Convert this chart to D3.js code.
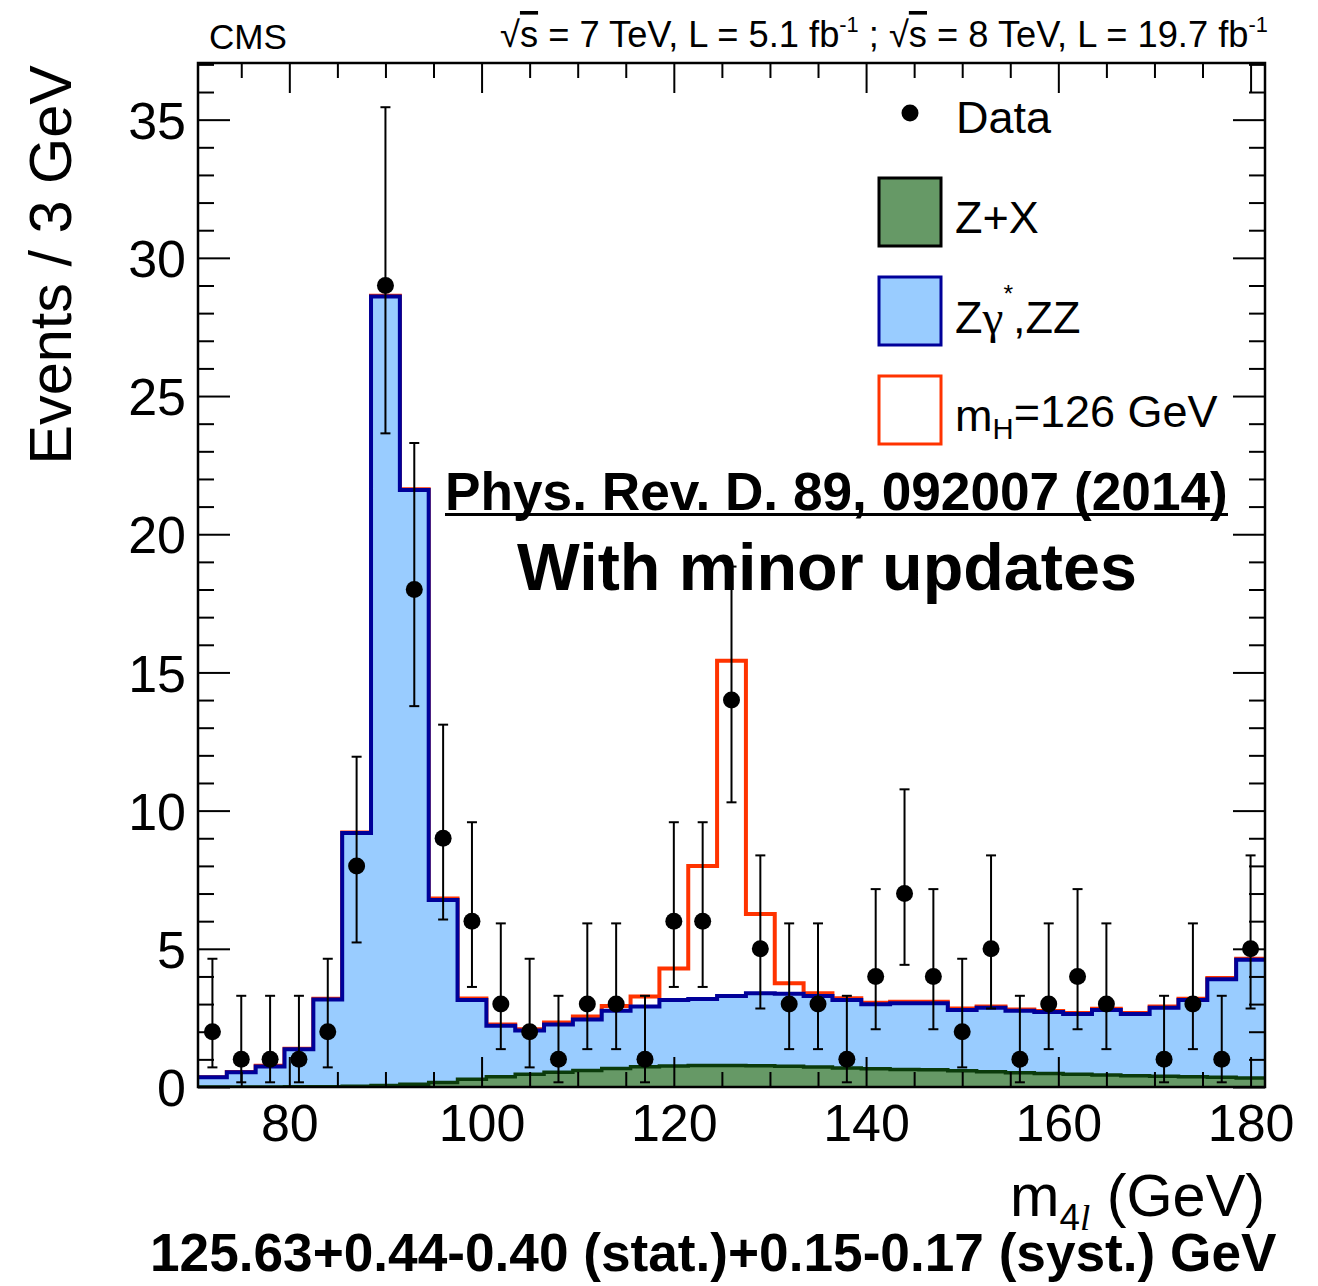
<!DOCTYPE html>
<html><head><meta charset="utf-8">
<script src="https://cdn.jsdelivr.net/npm/d3@7"></script>
<style>
body{margin:0;background:#fff;}
svg text{font-family:"Liberation Sans",Arial,Helvetica,sans-serif;fill:#000;}
</style></head><body>
<svg id="c" width="1318" height="1286"></svg>
<script>
// Four-lepton invariant mass, 3 GeV bins (centres)
const binCenters = [72,75,78,81,84,87,90,93,96,99,102,105,108,111,114,117,120,123,126,129,
                    132,135,138,141,144,147,150,153,156,159,162,165,168,171,174,177,180];
const binWidth = 3;

// Observed events per bin
const dataCounts = [2,1,1,1,2,8,29,18,9,6,3,2,1,3,3,1,6,6,14,5,
                    3,3,1,4,7,4,2,5,1,3,4,3,0,1,3,1,5];
// Asymmetric (Poisson) uncertainties on the observed counts
const errLow  = [1.29,0.83,0.83,0.83,1.29,2.77,5.35,4.22,2.94,2.38,1.63,1.29,0.83,1.63,1.63,0.83,2.38,2.38,3.70,2.16,
                 1.63,1.63,0.83,1.91,2.58,1.91,1.29,2.16,0.83,1.63,1.91,1.63,0,0.83,1.63,0.83,2.16];
const errHigh = [2.64,2.30,2.30,2.30,2.64,3.95,6.45,5.30,4.11,3.58,2.92,2.64,2.30,2.92,2.92,2.30,3.58,3.58,4.83,3.38,
                 2.92,2.92,2.30,3.16,3.77,3.16,2.64,3.38,2.30,2.92,3.16,2.92,0,2.30,2.92,2.30,3.38];

// Expected yields per bin
const zPlusX = [0,0,0,0.005,0.01,0.03,0.05,0.10,0.16,0.28,0.37,0.46,0.53,0.60,0.67,0.73,0.76,0.78,0.78,0.77,
                0.75,0.72,0.69,0.66,0.63,0.62,0.59,0.55,0.52,0.49,0.46,0.43,0.41,0.39,0.37,0.35,0.33];
const zzBkg  = [0.35,0.53,0.74,1.36,3.16,9.16,28.55,21.50,6.61,2.87,1.85,1.58,1.73,1.84,2.09,2.18,2.39,2.40,2.51,2.62,
                2.62,2.57,2.46,2.33,2.40,2.41,2.20,2.32,2.24,2.22,2.18,2.36,2.23,2.48,2.78,3.55,4.27];
const higgs126 = [0.005,0.01,0.03,0.02,0.02,0.02,0.03,0.03,0.05,0.05,0.04,0.05,0.07,0.11,0.17,0.36,1.14,4.82,12.13,2.87,
                  0.38,0.10,0.06,0.06,0.05,0.05,0.05,0.04,0.04,0.04,0.04,0.04,0.04,0.04,0.04,0.04,0.04];

const xMajorTicks = [80,100,120,140,160,180];
const xMinorTicks = [75,85,90,95,105,110,115,125,130,135,145,150,155,165,170,175];
const yMajorTicks = [0,5,10,15,20,25,30,35];
const yMinorTicks = [1,2,3,4,6,7,8,9,11,12,13,14,16,17,18,19,21,22,23,24,26,27,28,29,31,32,33,34,36,37];

const COL = {zxFill:"#669966", zxLine:"#0b3b0b", zzFill:"#99ccff", zzLine:"#000099", h:"#ff3300"};
const SERIF = "'Liberation Serif','Times New Roman',serif";

const svg = d3.select("#c");
const F = {l:198, r:1265, t:63, b:1087};
const x = d3.scaleLinear().domain([70.5,181.5]).range([F.l,F.r]);
const y = d3.scaleLinear().domain([0,37.05]).range([F.b,F.t]);

svg.append("defs").append("clipPath").attr("id","frameClip")
  .append("rect").attr("x",F.l).attr("y",F.t).attr("width",F.r-F.l).attr("height",F.b-F.t);

// stacked cumulative tops
const zxTop = zPlusX.slice();
const zzTop = zzBkg.map((v,i)=>v+zPlusX[i]);
const hTop  = higgs126.map((v,i)=>v+zzTop[i]);

function stepPts(vals){
  const p=[];
  binCenters.forEach((c,i)=>{ p.push([c-binWidth/2,vals[i]]); p.push([c+binWidth/2,vals[i]]); });
  return p;
}
const line = d3.line().x(d=>x(d[0])).y(d=>y(d[1]));
const area = d3.area().x(d=>x(d[0])).y0(y(0)).y1(d=>y(d[1]));

const plot = svg.append("g").attr("clip-path","url(#frameClip)");
// signal on top of the stack
plot.append("path").attr("d",area(stepPts(hTop))).attr("fill","#fff");
plot.append("path").attr("d",line(stepPts(hTop))).attr("fill","none").attr("stroke",COL.h).attr("stroke-width",4);
// ZZ background
plot.append("path").attr("d",area(stepPts(zzTop))).attr("fill",COL.zzFill);
plot.append("path").attr("d",line(stepPts(zzTop))).attr("fill","none").attr("stroke",COL.zzLine).attr("stroke-width",4);
// Z+X background
plot.append("path").attr("d",area(stepPts(zxTop))).attr("fill",COL.zxFill);
plot.append("path").attr("d",line(stepPts(zxTop))).attr("fill","none").attr("stroke",COL.zxLine).attr("stroke-width",3.5);

// axes (ticks point inward)
function styleAxis(g){
  g.select(".domain").remove();
  g.selectAll(".tick line").attr("stroke","#000").attr("stroke-width",2);
  g.attr("font-family",null).attr("font-size",null);
}
svg.append("g").attr("transform",`translate(0,${F.b})`)
  .call(d3.axisBottom(x).tickValues(xMajorTicks).tickSizeInner(-30).tickSizeOuter(0).tickPadding(17).tickFormat(d3.format("d")))
  .call(styleAxis).selectAll("text").attr("font-size",52);
svg.append("g").attr("transform",`translate(0,${F.b})`)
  .call(d3.axisBottom(x).tickValues(xMinorTicks).tickSizeInner(-15).tickSizeOuter(0).tickFormat(""))
  .call(styleAxis);
svg.append("g").attr("transform",`translate(0,${F.t})`)
  .call(d3.axisTop(x).tickValues(xMajorTicks).tickSizeInner(-30).tickSizeOuter(0).tickFormat(""))
  .call(styleAxis);
svg.append("g").attr("transform",`translate(0,${F.t})`)
  .call(d3.axisTop(x).tickValues(xMinorTicks).tickSizeInner(-15).tickSizeOuter(0).tickFormat(""))
  .call(styleAxis);
svg.append("g").attr("transform",`translate(${F.l},0)`)
  .call(d3.axisLeft(y).tickValues(yMajorTicks).tickSizeInner(-32).tickSizeOuter(0).tickPadding(12).tickFormat(d3.format("d")))
  .call(styleAxis).selectAll("text").attr("font-size",52).attr("dy","0.36em");
svg.append("g").attr("transform",`translate(${F.l},0)`)
  .call(d3.axisLeft(y).tickValues(yMinorTicks).tickSizeInner(-16).tickSizeOuter(0).tickFormat(""))
  .call(styleAxis);
svg.append("g").attr("transform",`translate(${F.r},0)`)
  .call(d3.axisRight(y).tickValues(yMajorTicks).tickSizeInner(-32).tickSizeOuter(0).tickFormat(""))
  .call(styleAxis);
svg.append("g").attr("transform",`translate(${F.r},0)`)
  .call(d3.axisRight(y).tickValues(yMinorTicks).tickSizeInner(-16).tickSizeOuter(0).tickFormat(""))
  .call(styleAxis);

// data points with error bars
const pts = binCenters.map((c,i)=>({c, n:dataCounts[i], lo:errLow[i], hi:errHigh[i]})).filter(d=>d.n>0);
const dg = svg.append("g");
dg.selectAll("line.eb").data(pts).join("line").attr("class","eb")
  .attr("x1",d=>x(d.c)).attr("x2",d=>x(d.c)).attr("y1",d=>y(d.n-d.lo)).attr("y2",d=>y(d.n+d.hi))
  .attr("stroke","#000").attr("stroke-width",2);
["lo","hi"].forEach(k=>{
  dg.selectAll("line.cap"+k).data(pts).join("line").attr("class","cap"+k)
    .attr("x1",d=>x(d.c)-5).attr("x2",d=>x(d.c)+5)
    .attr("y1",d=>y(k==="lo"?d.n-d.lo:d.n+d.hi)).attr("y2",d=>y(k==="lo"?d.n-d.lo:d.n+d.hi))
    .attr("stroke","#000").attr("stroke-width",2);
});
dg.selectAll("circle").data(pts).join("circle")
  .attr("cx",d=>x(d.c)).attr("cy",d=>y(d.n)).attr("r",8.5).attr("fill","#000");

// frame
svg.append("rect").attr("x",F.l).attr("y",F.t).attr("width",F.r-F.l).attr("height",F.b-F.t)
  .attr("fill","none").attr("stroke","#000").attr("stroke-width",2.5);

// helper: scale a text's font size so it spans a given width
function fit(t, width){
  const fs = parseFloat(t.attr("font-size"));
  const w = t.node().getBBox().width;
  t.attr("font-size", fs*width/w);
  return t;
}

// header
fit(svg.append("text").attr("x",209).attr("y",49).attr("font-size",33).text("CMS"),78);
const hdr = svg.append("text").attr("x",500).attr("y",47).attr("font-size",31);
function sqrtS(t){
  t.append("tspan").text("\u221a");
  t.append("tspan").style("text-decoration","overline").text("s");
}
sqrtS(hdr);
hdr.append("tspan").text(" = 7 TeV, L = 5.1 fb");
hdr.append("tspan").attr("font-size","0.6em").attr("dy","-0.7em").text("-1");
hdr.append("tspan").attr("dy","0.42em").text(" ; ");
sqrtS(hdr);
hdr.append("tspan").text(" = 8 TeV, L = 19.7 fb");
hdr.append("tspan").attr("font-size","0.6em").attr("dy","-0.7em").text("-1");
fit(hdr,768);

// axis titles
const yt = svg.append("text").attr("transform","translate(71,65) rotate(-90)")
  .attr("text-anchor","end").attr("font-size",58).text("Events / 3 GeV");
fit(yt,400);
const xt = svg.append("text").attr("x",F.r).attr("y",1216).attr("text-anchor","end").attr("font-size",58);
xt.append("tspan").text("m");
xt.append("tspan").attr("font-size","0.62em").attr("dy","0.38em").text("4");
xt.append("tspan").attr("font-size","0.62em").attr("font-family",SERIF).attr("font-style","italic").text("l");
xt.append("tspan").attr("dy","-0.236em").text(" (GeV)");
fit(xt,255);

// legend
const lg = svg.append("g");
lg.append("circle").attr("cx",910).attr("cy",113).attr("r",8.5).attr("fill","#000");
lg.append("text").attr("x",956).attr("y",133).attr("font-size",45).text("Data");
lg.append("rect").attr("x",879).attr("y",178).attr("width",62).attr("height",68)
  .attr("fill",COL.zxFill).attr("stroke","#000").attr("stroke-width",3);
lg.append("text").attr("x",955).attr("y",233).attr("font-size",45).text("Z+X");
lg.append("rect").attr("x",879).attr("y",277).attr("width",62).attr("height",68)
  .attr("fill",COL.zzFill).attr("stroke",COL.zzLine).attr("stroke-width",3);
const lz = lg.append("text").attr("x",955).attr("y",333).attr("font-size",45);
lz.append("tspan").text("Z");
lz.append("tspan").attr("font-family",SERIF).attr("font-size","1.05em").text("\u03b3");
lz.append("tspan").attr("font-size","0.55em").attr("dy","-1.25em").text("*");
lz.append("tspan").attr("dy","0.69em").text(",ZZ");
lg.append("rect").attr("x",879).attr("y",376).attr("width",62).attr("height",68)
  .attr("fill","#fff").attr("stroke",COL.h).attr("stroke-width",3);
const lh = lg.append("text").attr("x",955).attr("y",431).attr("font-size",45);
lh.append("tspan").text("m");
lh.append("tspan").attr("font-size","0.65em").attr("dy","0.27em").text("H");
lh.append("tspan").attr("dy","-0.27em").text("=126 GeV");

// annotations
const ref = svg.append("text").attr("x",445).attr("y",510).attr("font-size",44).attr("font-weight","bold")
  .text("Phys. Rev. D. 89, 092007 (2014)");
fit(ref,783);
svg.append("line").attr("x1",445).attr("x2",1228).attr("y1",514.5).attr("y2",514.5)
  .attr("stroke","#000").attr("stroke-width",3);
fit(svg.append("text").attr("x",517).attr("y",590).attr("font-size",58).attr("font-weight","bold")
  .text("With minor updates"),620);
fit(svg.append("text").attr("x",150).attr("y",1271).attr("font-size",46).attr("font-weight","bold")
  .text("125.63+0.44-0.40 (stat.)+0.15-0.17 (syst.) GeV"),1127);
</script>
</body></html>
